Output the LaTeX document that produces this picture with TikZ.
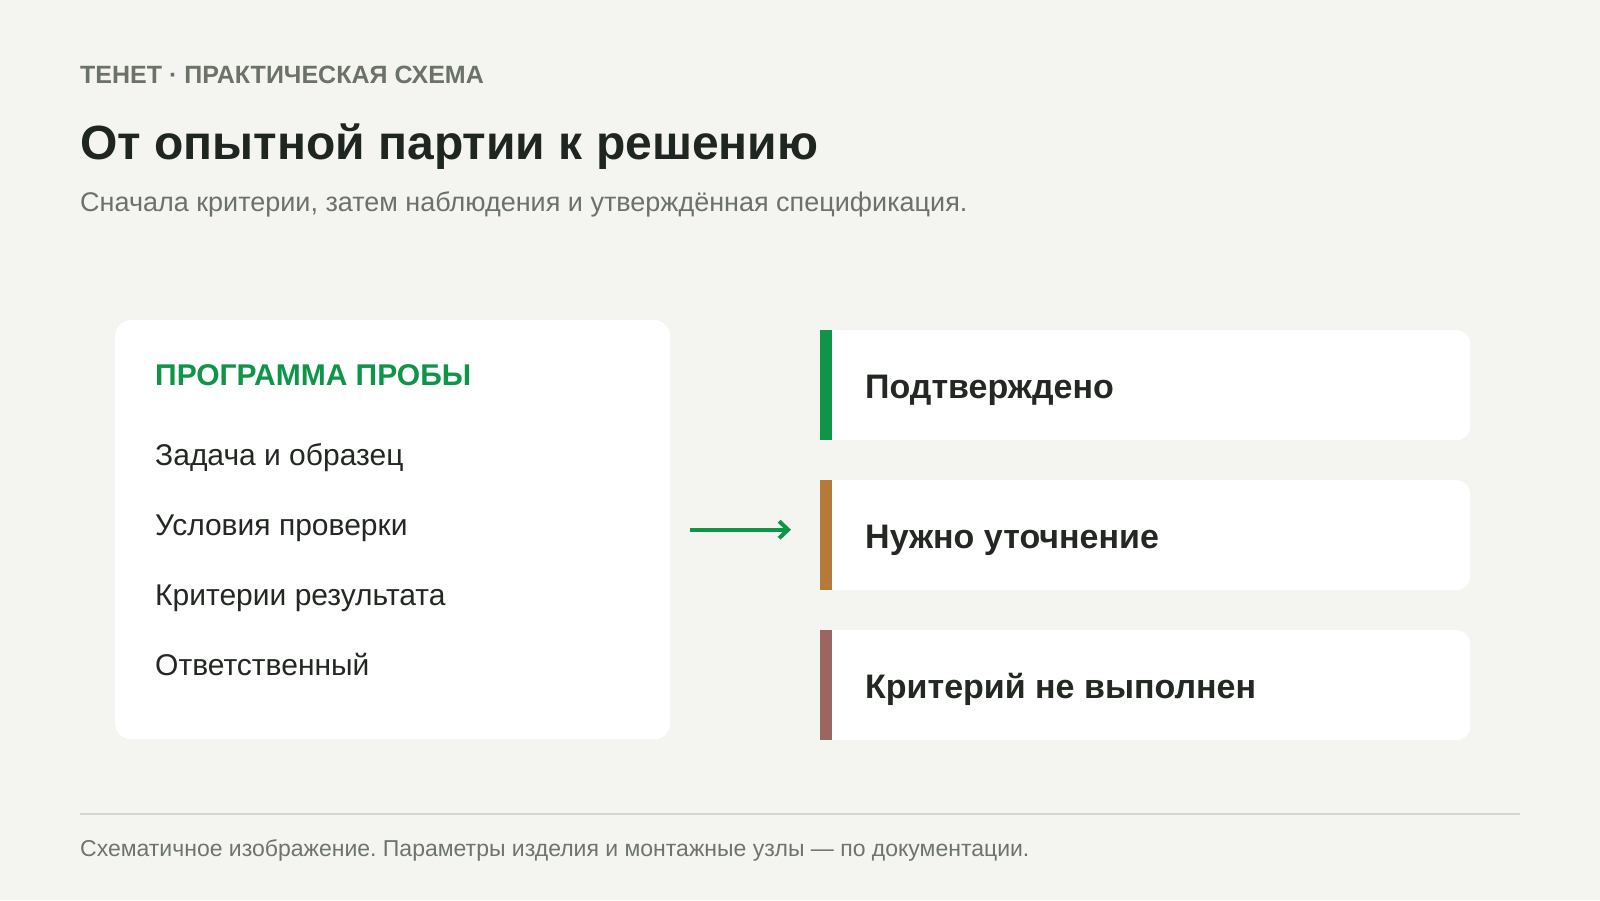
\documentclass[tikz,border=0pt]{standalone}
\usepackage{fontspec}
\setmainfont{Liberation Sans}
\usetikzlibrary{arrows.meta}
\frenchspacing

\definecolor{bgpage}{HTML}{F4F5F0}
\definecolor{kicker}{HTML}{6B7268}
\definecolor{titleink}{HTML}{1F2621}
\definecolor{subink}{HTML}{6B7269}
\definecolor{okgreen}{HTML}{0E9548}
\definecolor{warnbrown}{HTML}{B5793A}
\definecolor{failmauve}{HTML}{9B6562}
\definecolor{bodyink}{HTML}{232823}
\definecolor{rule}{HTML}{D4D7CF}
\definecolor{footink}{HTML}{6E746D}

\begin{document}
\begin{tikzpicture}[x=1pt, y=-1pt,
  txt/.style={anchor=base west, inner sep=0pt},
  card/.style={anchor=north west, fill=white, inner sep=0pt, rounded corners=16pt},
  result/.style={anchor=north west, fill=white, inner sep=0pt, rounded corners=14pt,
    minimum width=650pt, minimum height=110pt},
  item/.style={txt, text=bodyink, font=\fontsize{30}{34}\selectfont},
  verdict/.style={txt, text=bodyink, font=\bfseries\fontsize{34}{38}\selectfont},
  flow/.style={okgreen, line width=4pt, -{Straight Barb[length=9pt, width=17pt]}}]
% Page and margins
\fill[bgpage] (0, 0) rectangle (1600, 900);
\useasboundingbox (0, 0) rectangle (1600, 900);

% Heading
\node[txt, text=kicker, font=\bfseries\fontsize{25}{29}\selectfont] (kick) at (80, 83) {ТЕНЕТ · ПРАКТИЧЕСКАЯ СХЕМА};
\node[txt, text=titleink, font=\bfseries\fontsize{48}{54}\selectfont] (title) at (80, 159) {От опытной партии к решению};
\node[txt, text=subink, font=\fontsize{27}{31}\selectfont] (sub) at (80, 211) {Сначала критерии, затем наблюдения и утверждённая спецификация.};

% Left card: programme
\node[card, minimum width=555pt, minimum height=419pt] (prog) at (115, 320) {};
\node[txt, text=okgreen, font=\bfseries\fontsize{30}{34}\selectfont] (progtitle) at (155, 385) {ПРОГРАММА ПРОБЫ};
\node[item] (task) at (155, 465) {Задача и образец};
\node[item] (cond) at (155, 535) {Условия проверки};
\node[item] (crit) at (155, 605) {Критерии результата};
\node[item] (resp) at (155, 675) {Ответственный};

% Right cards: outcomes
\node[result] (ok) at (820, 330) {};
\fill[white] (ok.north west) rectangle ([xshift=30pt]ok.south west);
\fill[okgreen] (ok.north west) rectangle ([xshift=12pt]ok.south west);
\node[verdict] (oktext) at (865, 398) {Подтверждено};

\node[result] (refine) at (820, 480) {};
\fill[white] (refine.north west) rectangle ([xshift=30pt]refine.south west);
\fill[warnbrown] (refine.north west) rectangle ([xshift=12pt]refine.south west);
\node[verdict] (refinetext) at (865, 548) {Нужно уточнение};

\node[result] (fail) at (820, 630) {};
\fill[white] (fail.north west) rectangle ([xshift=30pt]fail.south west);
\fill[failmauve] (fail.north west) rectangle ([xshift=12pt]fail.south west);
\node[verdict] (failtext) at (865, 698) {Критерий не выполнен};

% Arrow
\draw[flow, shorten <=20pt, shorten >=29pt] (prog.east) -- (prog.east -| refine.west);

% Footer
\coordinate (ruleL) at (80, 814);
\coordinate (ruleR) at (1520, 814);
\draw[rule, line width=2pt] (ruleL) -- (ruleR);
\node[txt, text=footink, font=\fontsize{23}{27}\selectfont] (foot) at (80, 856) {Схематичное изображение. Параметры изделия и монтажные узлы — по документации.};
\end{tikzpicture}
\end{document}
